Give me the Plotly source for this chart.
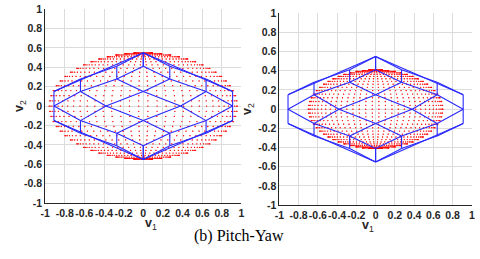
import numpy as np
import plotly.graph_objects as go

# ---- data ----
tick_vals = [-1, -0.8, -0.6, -0.4, -0.2, 0, 0.2, 0.4, 0.6, 0.8, 1]
tick_text = ["-1", "-0.8", "-0.6", "-0.4", "-0.2", "0", "0.2", "0.4", "0.6", "0.8", "1"]

# blue wireframe, upper-left quadrant segments (mirrored to the other quadrants)
seg_x0 = [-0.91, -0.64, -0.27, -0.91, -0.64, -0.27, -0.91, -0.64, -0.27, 0.0, -0.64, -0.38, -0.27, -0.91]
seg_y0 = [0.15, 0.28, 0.41, 0.0, 0.15, 0.28, 0.0, 0.15, 0.28, 0.41, 0.15, 0.0, 0.28, 0.15]
seg_x1 = [-0.64, -0.27, 0.0, -0.64, -0.27, 0.0, -0.91, -0.64, -0.27, 0.0, -0.38, 0.0, 0.0, 0.0]
seg_y1 = [0.28, 0.41, 0.55, 0.15, 0.28, 0.41, 0.15, 0.28, 0.41, 0.55, 0.0, 0.15, 0.15, 0.55]

left_semi_axes = (0.96, 0.55)
right_semi_axes = (0.70, 0.41)
n_lat = 33
n_lon = 64

caption = "(b) Pitch-Yaw"


def wire_xy():
    xs, ys = [], []
    for sx in (1, -1):
        for sy in (1, -1):
            for a, b, c, d in zip(seg_x0, seg_y0, seg_x1, seg_y1):
                xs += [sx * a, sx * c, None]
                ys += [sy * b, sy * d, None]
    return xs, ys


def cloud_xy(semi):
    lat = np.linspace(-np.pi / 2, np.pi / 2, n_lat)
    lon = np.linspace(0, 2 * np.pi, n_lon, endpoint=False) + np.pi / n_lon
    LA, LO = np.meshgrid(lat, lon)
    x = semi[0] * np.cos(LA) * np.cos(LO)
    y = semi[1] * np.sin(LA)
    return x.ravel(), y.ravel()


fig = go.Figure()
wx, wy = wire_xy()
for i, semi in enumerate([left_semi_axes, right_semi_axes]):
    xa = "x" if i == 0 else "x2"
    ya = "y" if i == 0 else "y2"
    cx, cy = cloud_xy(semi)
    fig.add_trace(go.Scatter(x=cx, y=cy, mode="markers", xaxis=xa, yaxis=ya,
                             marker=dict(color="rgba(255,0,0,0.75)", size=1.3, line=dict(width=0)),
                             hoverinfo="skip", showlegend=False))
    fig.add_trace(go.Scatter(x=wx, y=wy, mode="lines", xaxis=xa, yaxis=ya,
                             line=dict(color="rgb(40,40,255)", width=1.1),
                             hoverinfo="skip", showlegend=False))

axis_common = dict(range=[-1, 1], tickvals=tick_vals, ticktext=tick_text, tickangle=0,
                   showgrid=True, gridcolor="#dcdcdc", gridwidth=1, zeroline=False,
                   showline=True, linecolor="#262626", linewidth=1, mirror=False,
                   automargin=False, ticklabeloverflow="allow",
                   ticks="", tickfont=dict(family="Liberation Sans, Arial", size=10.5,
                                           color="#262626", weight="bold"))

fig.update_layout(
    width=480, height=259, margin=dict(l=0, r=0, t=0, b=0),
    paper_bgcolor="white", plot_bgcolor="white",
    xaxis=dict(domain=[0.094, 0.503], anchor="y", **axis_common),
    yaxis=dict(domain=[0.216, 0.965], anchor="x", **axis_common),
    xaxis2=dict(domain=[0.582, 0.983], anchor="y2", **axis_common),
    yaxis2=dict(domain=[0.208, 0.949], anchor="x2", **axis_common),
)

lab_font = dict(family="Liberation Sans, Arial", size=12.5, color="#262626")
fig.add_annotation(text="<b>v</b><sub>1</sub>", x=143 / 480, y=1 - 234 / 259, xref="paper", yref="paper",
                   showarrow=False, font=lab_font)
fig.add_annotation(text="<b>v</b><sub>1</sub>", x=376 / 480, y=1 - 236 / 259, xref="paper", yref="paper",
                   showarrow=False, font=lab_font)
fig.add_annotation(text="<b>v</b><sub>2</sub>", x=10 / 480, y=1 - 106 / 259, xref="paper", yref="paper",
                   showarrow=False, textangle=-90, font=lab_font)
fig.add_annotation(text="<b>v</b><sub>2</sub>", x=248 / 480, y=1 - 109 / 259, xref="paper", yref="paper",
                   showarrow=False, textangle=-90, font=lab_font)
fig.add_annotation(text=caption, x=239 / 480, y=1 - 247 / 259, xref="paper", yref="paper",
                   showarrow=False, font=dict(family="Liberation Serif, Times New Roman", size=16, color="black"))

fig.write_html("out.html", config={"displayModeBar": False},
               post_script="document.body.style.margin='0px';document.body.style.padding='0px';")
